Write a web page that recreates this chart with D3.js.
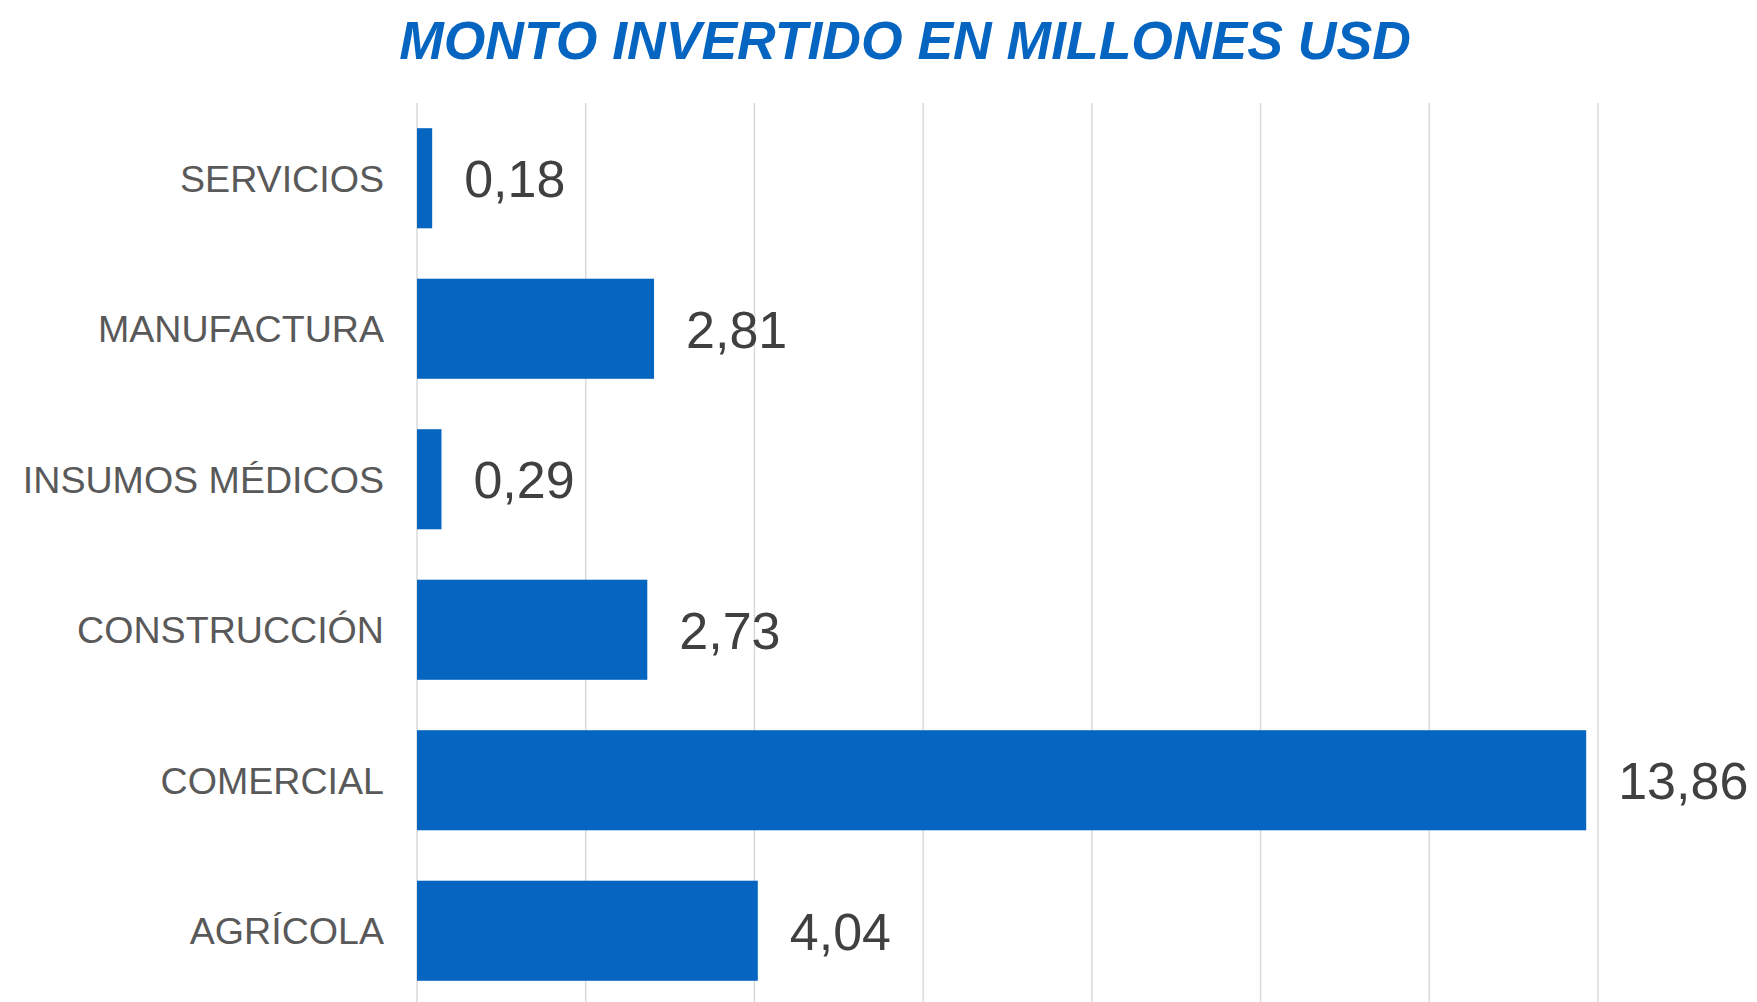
<!DOCTYPE html>
<html>
<head>
<meta charset="utf-8">
<script src="https://cdn.jsdelivr.net/npm/d3@7"></script>
<style>
  body { margin: 0; background: #fff; }
  svg { display: block; font-family: "Liberation Sans", Arial, sans-serif; }
</style>
</head>
<body>
<script>
var categories = ["SERVICIOS", "MANUFACTURA", "INSUMOS MÉDICOS", "CONSTRUCCIÓN", "COMERCIAL", "AGRÍCOLA"];
var values = [0.18, 2.81, 0.29, 2.73, 13.86, 4.04];
var xTicks = [0, 2, 4, 6, 8, 10, 12, 14];
var title = "MONTO INVERTIDO EN MILLONES USD";

var W = 1757, H = 1002;
var margin = {top: 103, right: 159, bottom: -4, left: 417};
var width = W - margin.left - margin.right;
var height = H - margin.top - margin.bottom;

var catSize = 37.6, valSize = 52;

var fmt = function(v) { return d3.format(".2f")(v).replace(".", ","); };

var svg = d3.select("body").append("svg")
  .attr("width", W)
  .attr("height", H);

svg.append("text")
  .attr("x", 905)
  .attr("y", 59)
  .attr("text-anchor", "middle")
  .attr("font-size", 53.5)
  .attr("font-weight", "bold")
  .attr("font-style", "italic")
  .attr("fill", "#0565c1")
  .text(title);

var x = d3.scaleLinear().domain([0, 14]).range([0, width]);
var y = d3.scaleBand().domain(categories).range([0, height])
  .paddingInner(0.335).paddingOuter(0.1675);

var g = svg.append("g")
  .attr("transform", "translate(" + margin.left + "," + margin.top + ")");

// vertical gridlines
g.selectAll(".grid").data(xTicks).enter().append("line")
  .attr("class", "grid")
  .attr("x1", function(d) { return x(d); })
  .attr("x2", function(d) { return x(d); })
  .attr("y1", 0)
  .attr("y2", height)
  .attr("stroke", "#d9d9d9")
  .attr("stroke-width", 1.5);

var data = categories.map(function(c, i) { return {cat: c, val: values[i]}; });

g.selectAll(".bar").data(data).enter().append("rect")
  .attr("class", "bar")
  .attr("x", x(0))
  .attr("y", function(d) { return y(d.cat); })
  .attr("width", function(d) { return x(d.val) - x(0); })
  .attr("height", y.bandwidth())
  .attr("fill", "#0565c1");

// category labels
g.selectAll(".cat").data(data).enter().append("text")
  .attr("class", "cat")
  .attr("x", -33)
  .attr("y", function(d) { return y(d.cat) + y.bandwidth() / 2 + catSize * 0.358; })
  .attr("text-anchor", "end")
  .attr("font-size", catSize)
  .attr("fill", "#595959")
  .text(function(d) { return d.cat; });

// value labels
g.selectAll(".val").data(data).enter().append("text")
  .attr("class", "val")
  .attr("x", function(d) { return x(d.val) + 32; })
  .attr("y", function(d) { return y(d.cat) + y.bandwidth() / 2 + valSize * 0.37; })
  .attr("font-size", valSize)
  .attr("fill", "#404040")
  .text(function(d) { return fmt(d.val); });
</script>
</body>
</html>
